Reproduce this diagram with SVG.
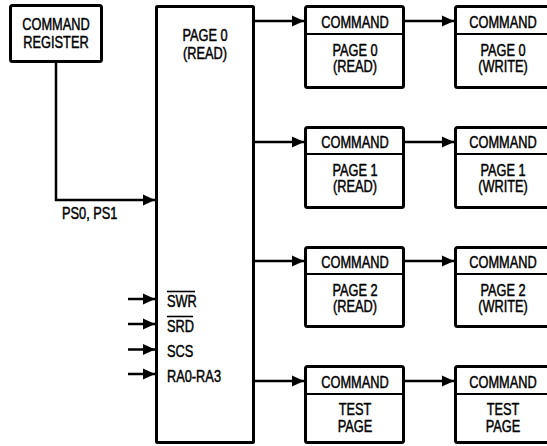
<svg xmlns="http://www.w3.org/2000/svg" width="547" height="446" viewBox="0 0 547 446">
<style>
.box{fill:#fff;stroke:#000;stroke-width:3}
.div{stroke:#000;stroke-width:2}
.ln{fill:none;stroke:#000;stroke-width:2.5}
.t{font-family:"Liberation Sans",Arial,sans-serif;font-size:16px;text-anchor:middle;fill:#000;stroke:#000;stroke-width:0.45}
.s{font-family:"Liberation Sans",Arial,sans-serif;font-size:16px;text-anchor:start;fill:#000;stroke:#000;stroke-width:0.45}
</style>
<defs>
<marker id="ah" markerUnits="userSpaceOnUse" markerWidth="13" markerHeight="13" refX="12" refY="6.5" orient="auto">
<path d="M0,1 L12,6.5 L0,12 Z" fill="#000"/>
</marker>
</defs>
<rect width="547" height="446" fill="#fff"/>
<g id="connectors">
<path class="ln" d="M56,62 V200 H155" marker-end="url(#ah)"/>
<path class="ln" d="M254,21 H304" marker-end="url(#ah)"/>
<path class="ln" d="M254,142 H304" marker-end="url(#ah)"/>
<path class="ln" d="M254,261 H304" marker-end="url(#ah)"/>
<path class="ln" d="M254,381 H304" marker-end="url(#ah)"/>
<path class="ln" d="M404,21 H454" marker-end="url(#ah)"/>
<path class="ln" d="M404,142 H454" marker-end="url(#ah)"/>
<path class="ln" d="M404,261 H454" marker-end="url(#ah)"/>
<path class="ln" d="M404,381 H454" marker-end="url(#ah)"/>
<path class="ln" d="M128,299 H155" marker-end="url(#ah)"/>
<path class="ln" d="M128,324 H155" marker-end="url(#ah)"/>
<path class="ln" d="M128,349.5 H155" marker-end="url(#ah)"/>
<path class="ln" d="M128,374 H155" marker-end="url(#ah)"/>
<text class="s" transform="translate(62,219) scale(0.8,1)">PS0, PS1</text>
</g>
<g id="command-register">
<rect class="box" x="10.5" y="5.5" width="91" height="56" rx="2"/>
<text class="t" transform="translate(56,30) scale(0.8,1)">COMMAND</text>
<text class="t" transform="translate(56,48) scale(0.8,1)">REGISTER</text>
</g>
<g id="page0-main">
<rect class="box" x="156.5" y="6.5" width="97" height="436" rx="1"/>
<text class="t" transform="translate(205,41) scale(0.8,1)">PAGE 0</text>
<text class="t" transform="translate(205,59) scale(0.8,1)">(READ)</text>
<text class="s" transform="translate(167,307) scale(0.8,1)">SWR</text>
<line class="div" x1="167" y1="291.5" x2="195" y2="291.5" style="stroke-width:1.6"/>
<text class="s" transform="translate(167,332) scale(0.8,1)">SRD</text>
<line class="div" x1="167" y1="316.5" x2="193" y2="316.5" style="stroke-width:1.6"/>
<text class="s" transform="translate(167,357) scale(0.8,1)">SCS</text>
<text class="s" transform="translate(167,382) scale(0.8,1)">RA0-RA3</text>
</g>
<g id="p0-read">
<rect class="box" x="305.5" y="6.5" width="98" height="81" rx="2"/>
<line class="div" x1="305" y1="34" x2="404" y2="34"/>
<text class="t" transform="translate(355,28) scale(0.8,1)">COMMAND</text>
<text class="t" transform="translate(355,56) scale(0.8,1)">PAGE 0</text>
<text class="t" transform="translate(355,72) scale(0.8,1)">(READ)</text>
</g>
<g id="p0-write">
<rect class="box" x="455.5" y="6.5" width="98" height="81" rx="2"/>
<line class="div" x1="455" y1="34" x2="554" y2="34"/>
<text class="t" transform="translate(503,28) scale(0.8,1)">COMMAND</text>
<text class="t" transform="translate(503,56) scale(0.8,1)">PAGE 0</text>
<text class="t" transform="translate(503,72) scale(0.8,1)">(WRITE)</text>
</g>
<g id="p1-read">
<rect class="box" x="305.5" y="127.5" width="98" height="80" rx="2"/>
<line class="div" x1="305" y1="154" x2="404" y2="154"/>
<text class="t" transform="translate(355,148) scale(0.8,1)">COMMAND</text>
<text class="t" transform="translate(355,176) scale(0.8,1)">PAGE 1</text>
<text class="t" transform="translate(355,192) scale(0.8,1)">(READ)</text>
</g>
<g id="p1-write">
<rect class="box" x="455.5" y="127.5" width="98" height="80" rx="2"/>
<line class="div" x1="455" y1="154" x2="554" y2="154"/>
<text class="t" transform="translate(503,148) scale(0.8,1)">COMMAND</text>
<text class="t" transform="translate(503,176) scale(0.8,1)">PAGE 1</text>
<text class="t" transform="translate(503,192) scale(0.8,1)">(WRITE)</text>
</g>
<g id="p2-read">
<rect class="box" x="305.5" y="247.5" width="98" height="79" rx="2"/>
<line class="div" x1="305" y1="274" x2="404" y2="274"/>
<text class="t" transform="translate(355,268) scale(0.8,1)">COMMAND</text>
<text class="t" transform="translate(355,296) scale(0.8,1)">PAGE 2</text>
<text class="t" transform="translate(355,312) scale(0.8,1)">(READ)</text>
</g>
<g id="p2-write">
<rect class="box" x="455.5" y="247.5" width="98" height="79" rx="2"/>
<line class="div" x1="455" y1="274" x2="554" y2="274"/>
<text class="t" transform="translate(503,268) scale(0.8,1)">COMMAND</text>
<text class="t" transform="translate(503,296) scale(0.8,1)">PAGE 2</text>
<text class="t" transform="translate(503,312) scale(0.8,1)">(WRITE)</text>
</g>
<g id="test-read">
<rect class="box" x="305.5" y="366.5" width="98" height="76" rx="2"/>
<line class="div" x1="305" y1="394" x2="404" y2="394"/>
<text class="t" transform="translate(355,388) scale(0.8,1)">COMMAND</text>
<text class="t" transform="translate(355,415) scale(0.8,1)">TEST</text>
<text class="t" transform="translate(355,432) scale(0.8,1)">PAGE</text>
</g>
<g id="test-write">
<rect class="box" x="455.5" y="366.5" width="98" height="76" rx="2"/>
<line class="div" x1="455" y1="394" x2="554" y2="394"/>
<text class="t" transform="translate(503,388) scale(0.8,1)">COMMAND</text>
<text class="t" transform="translate(503,415) scale(0.8,1)">TEST</text>
<text class="t" transform="translate(503,432) scale(0.8,1)">PAGE</text>
</g>
</svg>
